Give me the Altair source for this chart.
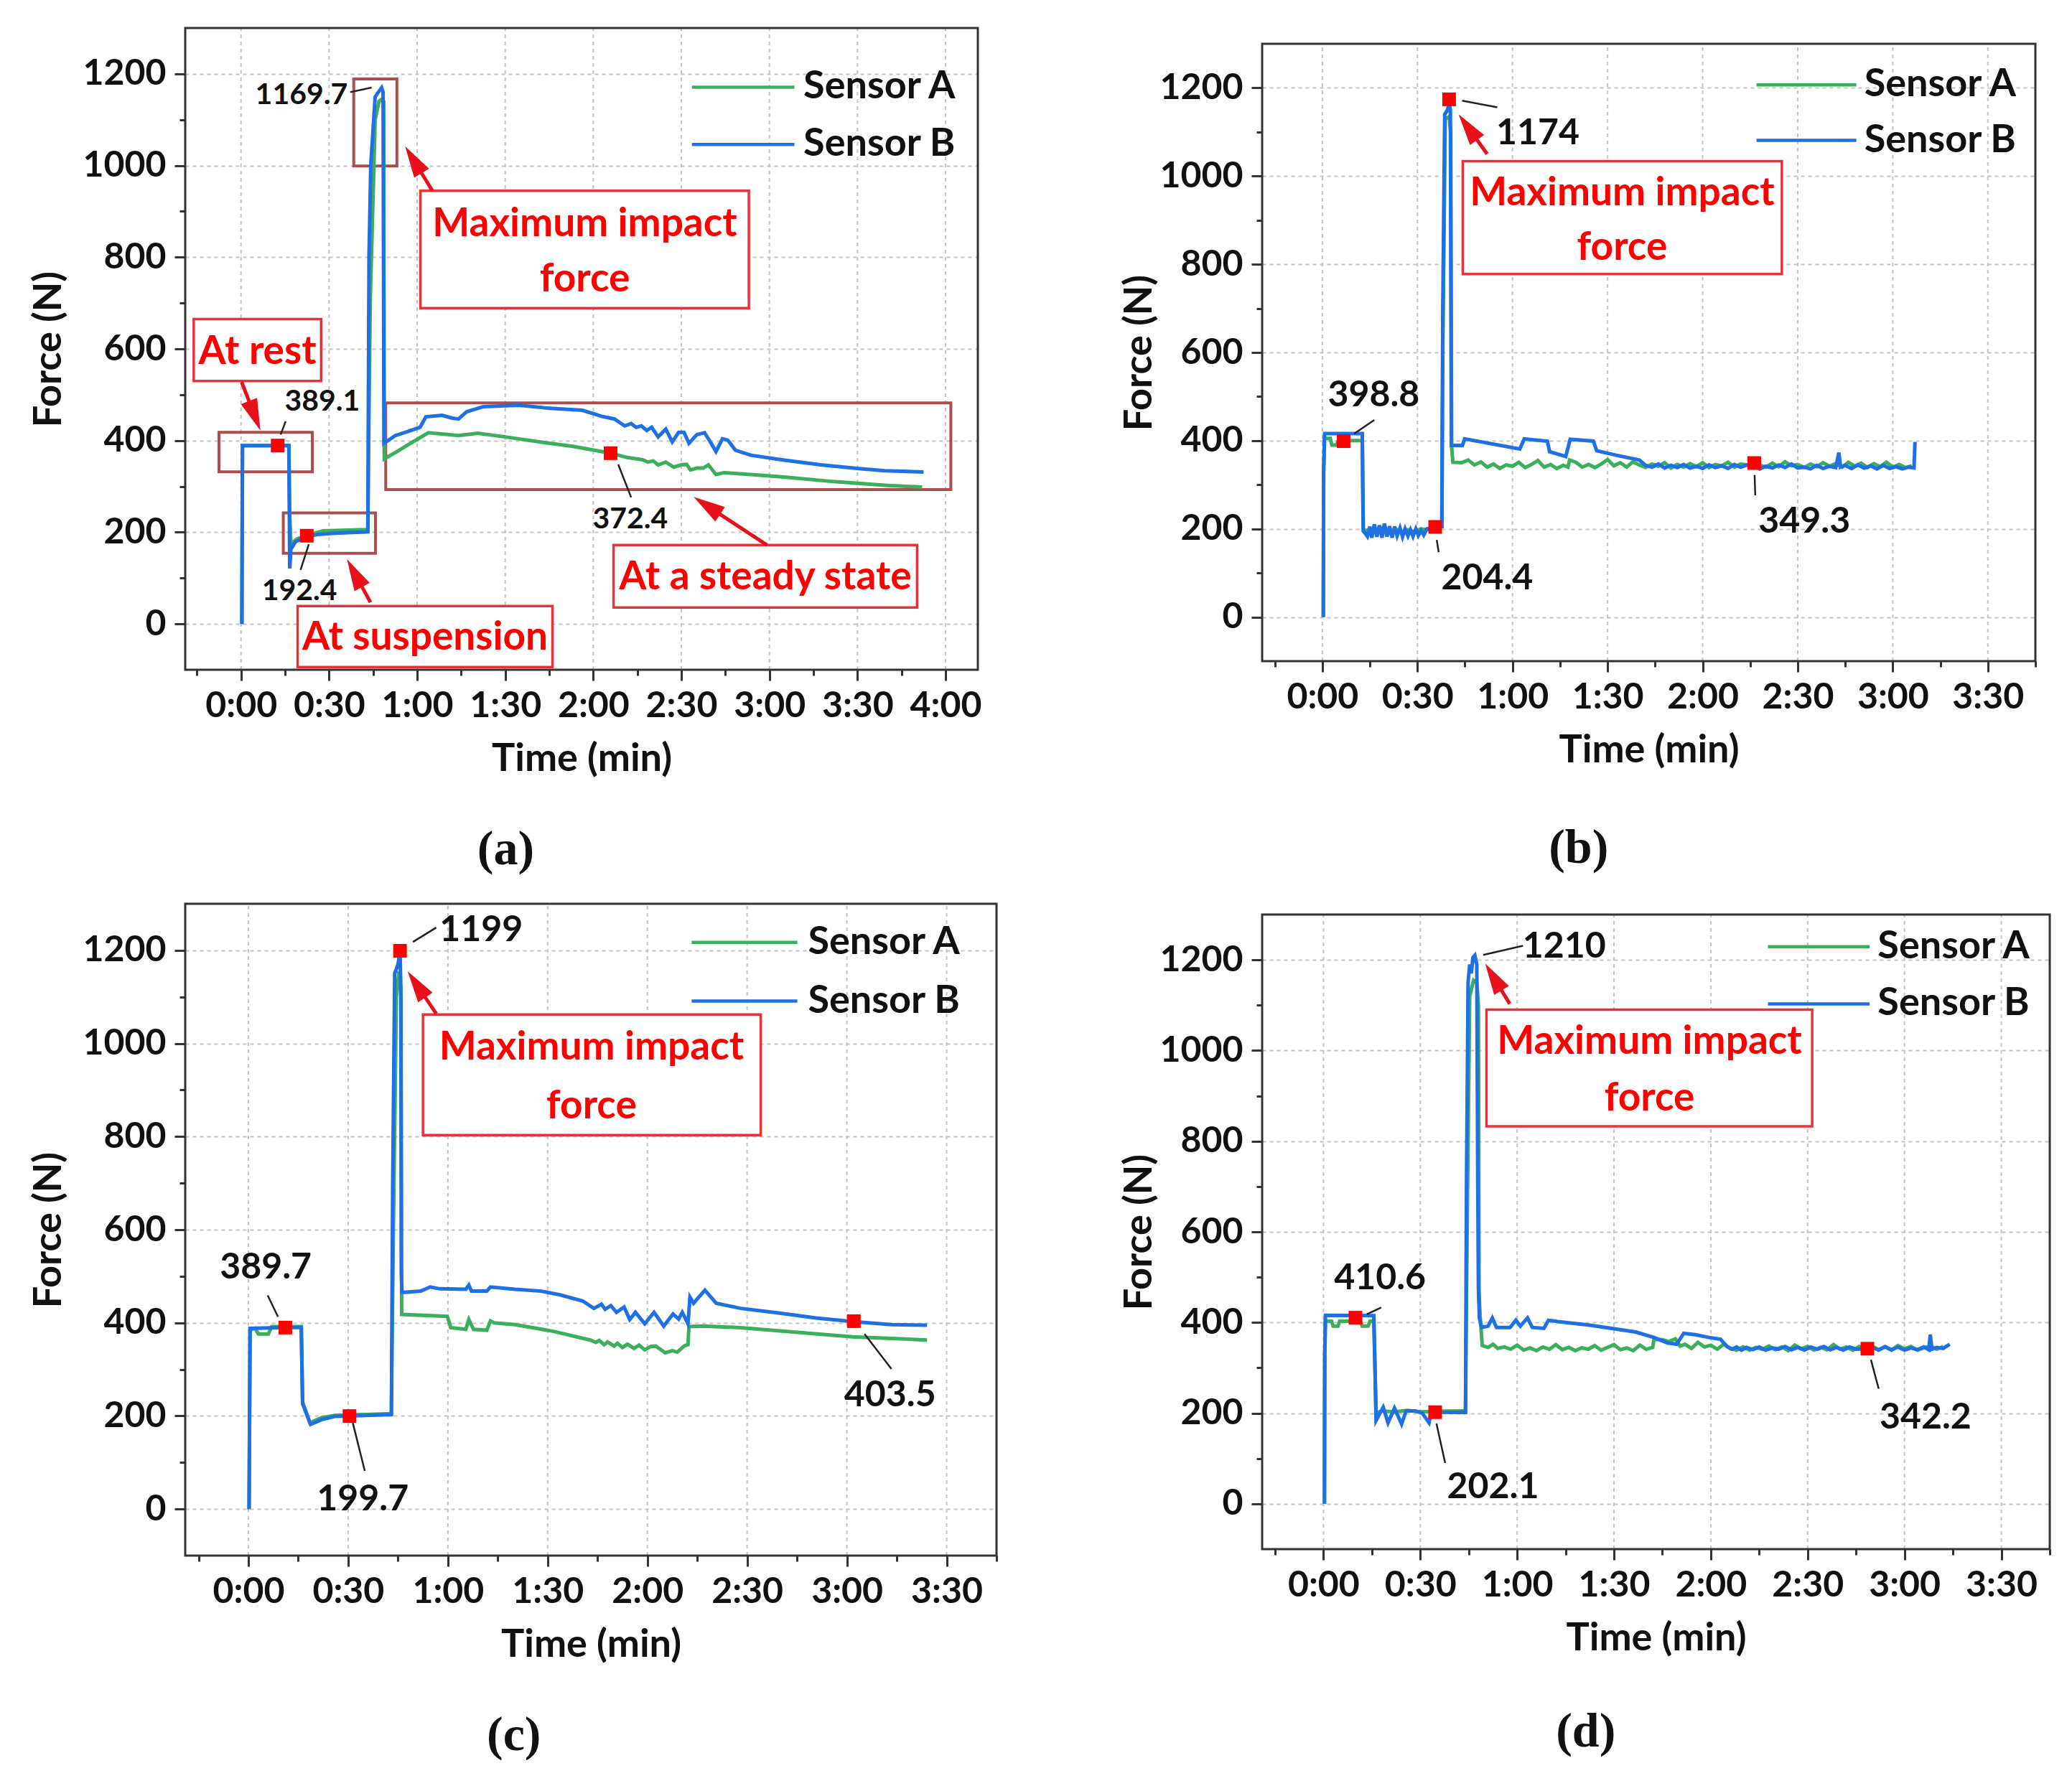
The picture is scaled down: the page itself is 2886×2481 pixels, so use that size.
import math
import altair as alt
import pandas as pd

FONT = "Lato"
GREEN = "#3BAF5B"
BLUE = "#1F6FE5"
RED = "#FF0000"
BOXRED = "#E8323A"
ARROWRED = "#E8101A"
DARKRED = "#A03C3C"
INK = "#111111"
FRAME = "#333333"
GRID = "#c4c4c4"
ARROW_PATH = "M0,-1L0.55,1L-0.55,1Z"

# ---------------- data: (time in s, force in N) ----------------
A_SENSOR_A = [(0.3, 0), (0.5, 389), (16.3, 389), (16.6, 240), (17.0, 174), (19.0, 185), (22.4, 193), (28, 203),
              (43.2, 206), (44.0, 700), (45.7, 1100), (47.0, 1140), (48.0, 1145), (48.6, 1140), (48.8, 360),
              (52.6, 374), (57.2, 392), (63.8, 417), (74.1, 411), (80.7, 416), (90.0, 408), (104.1, 395),
              (113.4, 387), (122.8, 376), (125.9, 372.4), (131.6, 363), (136.8, 358), (138.6, 353), (140.4, 355.5),
              (142.1, 347), (144.7, 353), (147.4, 342), (150.0, 347), (151.8, 348), (153.1, 336), (155.3, 340),
              (157.5, 340), (159.2, 347), (161.8, 326), (164.5, 330), (171.1, 327), (184.2, 321), (201.8, 310.5),
              (219.3, 302.6), (232.0, 298.4)]
A_SENSOR_B = [(0.3, 0), (0.5, 389), (16.3, 389), (16.6, 121), (17.0, 163), (18.5, 179), (20.5, 185), (22.4, 190),
              (26, 195), (32, 198), (43.2, 201), (43.6, 800), (44.2, 1000), (45.7, 1150), (47.0, 1162),
              (47.9, 1169.7), (48.4, 1160), (48.7, 394), (52.6, 411), (57.0, 420), (61.0, 429), (63.0, 452),
              (68.5, 455), (72.0, 449), (74.1, 447), (76.9, 463), (82.6, 474), (94.7, 477), (104.1, 471),
              (116.3, 466), (122.8, 453), (127.2, 447), (130.7, 432), (132.9, 437), (134.6, 429), (136.4, 432),
              (138.2, 422), (139.9, 429), (142.1, 408), (144.7, 425), (146.9, 397), (149.1, 418), (150.9, 418),
              (152.6, 394), (155.3, 413), (157.9, 417), (159.6, 400), (161.8, 376), (164.0, 404), (165.8, 401),
              (168.4, 379), (173.7, 368), (184.2, 358), (197.4, 347), (210.5, 339), (219.3, 334), (232.5, 331.6)]

B_SENSOR_A = [(0.3, 0), (0.4, 330), (0.7, 405), (2.5, 405), (3.0, 390), (4.5, 390), (5.0, 400), (12.6, 400),
              (12.9, 200), (13.5, 195), (15, 200), (17, 192), (19, 202), (21, 190), (23, 200), (25, 192), (27, 198),
              (29, 193), (31, 200), (33, 198), (35.5, 204), (37.7, 205), (38.0, 600), (38.8, 1130), (40.0, 1135),
              (40.5, 1100), (40.8, 385), (41.2, 351), (44, 350), (46, 356), (48, 345), (50, 352), (52, 340),
              (54, 347), (56, 337), (58, 345), (60, 342), (62, 351), (64, 339), (66, 346), (68, 355), (70, 340),
              (72, 346), (74, 337), (76, 344), (77.5, 340), (78, 356), (80, 351), (82, 340), (84, 346), (86, 339),
              (88, 347), (90, 357), (92, 343), (94, 350), (96, 340), (98, 352), (100, 345), (102, 339), (104, 347),
              (106, 342), (108, 350), (110, 338), (112, 346), (114, 340), (116, 348), (118, 341), (120, 350),
              (122, 339), (124, 346), (126, 343), (128, 351), (130, 340), (132, 347), (134, 345), (136, 338),
              (138, 344), (140, 340), (142, 349), (144, 341), (146, 352), (148, 343), (150, 346), (152, 339),
              (154, 347), (156, 341), (158, 350), (160, 342), (162, 348), (164, 340), (166, 351), (168, 342),
              (170, 349), (172, 339), (174, 348), (176, 341), (178, 351), (180, 340), (182, 346), (184, 339),
              (186, 343)]
B_SENSOR_B = [(0.3, 0), (0.4, 330), (0.7, 416), (12.6, 416), (12.9, 195), (13.5, 190), (14.2, 183), (15.0, 205),
              (15.6, 180), (16.4, 210), (17.2, 182), (18.0, 208), (18.8, 180), (19.6, 212), (20.4, 182),
              (21.2, 206), (22.0, 180), (22.8, 205), (23.6, 184), (24.5, 202), (25.3, 182), (26.1, 200),
              (27.0, 184), (27.8, 198), (28.6, 183), (29.5, 200), (30.3, 185), (31.2, 196), (32.0, 186),
              (33.0, 200), (35.5, 204.4), (37.7, 205), (38.0, 700), (38.6, 1140), (39.5, 1150), (40.0, 1165),
              (40.4, 1150), (40.7, 389), (44.2, 389), (44.9, 404), (62.3, 381), (63.7, 404), (71.0, 399),
              (71.7, 375), (76.8, 364), (78.2, 403), (85.5, 399), (86.6, 377), (92.7, 367), (100.0, 356),
              (102, 344), (104, 340), (106, 347), (108, 338), (110, 344), (112, 339), (114, 346), (116, 338),
              (118, 342), (120, 337), (122, 345), (124, 339), (126, 343), (128, 337), (130, 346), (132, 340),
              (134, 345), (136.3, 349.3), (138, 336), (140, 342), (142, 338), (144, 345), (146, 339), (148, 347),
              (150, 338), (152, 340), (154, 336), (156, 344), (158, 337), (160, 342), (162, 339), (163, 373),
              (163.5, 340), (165, 344), (167, 337), (169, 345), (171, 338), (173, 343), (175, 336), (177, 344),
              (179, 337), (181, 341), (183, 336), (185, 340), (186.7, 338), (187, 397)]

C_SENSOR_A = [(0.2, 0), (0.5, 385), (2.0, 388), (3.0, 376), (6.0, 376), (7.0, 392), (15.9, 392), (16.3, 230),
              (18.5, 185), (22.0, 196), (26.0, 201), (43.0, 205), (43.6, 600), (44.5, 1100), (45.3, 1155),
              (45.8, 1120), (46.1, 418), (59.8, 414), (60.9, 389.5), (65.4, 386), (66.3, 407), (67.7, 386),
              (71.7, 384), (72.8, 404), (73.9, 400), (80.2, 396), (91.5, 382), (102.8, 363), (104.5, 358),
              (105.5, 362), (107.0, 353), (108.0, 359), (110.0, 350), (111.0, 356), (112.5, 347), (114.0, 354),
              (116.0, 345), (117.5, 352), (119.2, 342), (121.0, 349), (122.5, 350), (125.4, 335.6), (127.5, 340),
              (129.0, 337), (131.0, 350), (132.2, 353), (132.5, 392), (137.0, 393), (148.0, 389.5), (181.7, 370),
              (204.1, 363)]
C_SENSOR_B = [(0.2, 0), (0.5, 388), (11.1, 390), (15.9, 390), (16.3, 226), (18.7, 182), (22.0, 192), (26.0, 199),
              (30.4, 199.7), (43.0, 203), (43.4, 700), (44.0, 1150), (45.0, 1170), (45.6, 1199), (45.9, 1100),
              (46.0, 507), (46.2, 465), (51.8, 468), (54.7, 477), (57.5, 473), (65.4, 472), (66.3, 481),
              (67.1, 468), (71.7, 468), (72.8, 477), (80.2, 472), (88.1, 468), (93.7, 460), (100.5, 447),
              (103.9, 431), (106.2, 440), (107.3, 429), (109.0, 437), (110.7, 422.5), (113.0, 434), (114.7, 407),
              (116.4, 422.5), (119.2, 398), (122.0, 422.5), (124.9, 393), (127.7, 419), (129.4, 408),
              (130.5, 422.5), (132.2, 398), (132.8, 455), (133.9, 442), (135.1, 452), (137.3, 470), (140.7, 442),
              (148.1, 431), (159.4, 421), (170.7, 410.5), (181.7, 402.6), (193.4, 396), (204.1, 395)]

D_SENSOR_A = [(0.3, 0), (0.4, 330), (0.6, 403), (2.5, 403), (3.0, 392), (4.5, 392), (5.0, 403), (11.5, 403),
              (12.0, 392), (13.8, 392), (14.4, 403), (15.6, 403), (16.3, 200), (18, 205), (22, 203), (26, 206),
              (30, 203), (35, 204), (44.0, 205), (44.5, 600), (45.3, 1120), (46.5, 1155), (47.5, 1150), (48.0, 1100),
              (48.2, 469), (48.5, 416), (49.2, 349), (51, 345), (52.5, 352), (54, 343), (56, 346), (58, 341),
              (60, 350), (62, 339), (64, 344), (66, 338), (68, 346), (70, 341), (72, 351), (74, 340), (76, 345),
              (78, 338), (80, 344), (82, 341), (84, 349), (86, 339), (88, 345), (90, 351), (92, 340), (94, 344),
              (96, 338), (98, 350), (100, 341), (102, 345), (102.4, 363), (105, 362), (107, 358), (109, 364),
              (110.5, 348), (112, 352), (114, 343), (116, 356), (118, 346), (120, 350), (122, 341), (124, 352),
              (126, 343), (128, 339), (130, 346), (132, 339), (134, 345), (136, 341), (138, 348), (140, 340),
              (142, 346), (144, 338), (146, 350), (148, 342), (150, 347), (152, 339), (154, 345), (156, 340),
              (158, 351), (160, 341), (162, 346), (164, 339), (166, 347), (168, 342), (170, 348), (172, 340),
              (174, 346), (176, 339), (178, 349), (180, 342), (182, 347), (184, 339), (186, 344), (188, 348),
              (190, 341), (192, 347)]
D_SENSOR_B = [(0.3, 0), (0.4, 330), (0.6, 416), (15.6, 415), (16.3, 184), (18.5, 213), (20.0, 179), (22.0, 211),
              (24.2, 176), (25.6, 205), (28.4, 205), (30.6, 200), (32.7, 179), (33.4, 203), (35.0, 202.1),
              (44.0, 201.6), (44.3, 700), (44.8, 1150), (45.3, 1190), (45.8, 1170), (46.3, 1205), (46.9, 1210),
              (47.5, 1190), (47.8, 700), (48.0, 475), (48.3, 410), (49.0, 389), (51.0, 392), (52.3, 410),
              (53.6, 389), (57.8, 389), (59.6, 405), (61.0, 392), (63.2, 410), (64.7, 389), (68.3, 387),
              (69.7, 405), (72.5, 402), (82.5, 394), (96.7, 379), (102.4, 367), (106.6, 355), (109.4, 352),
              (111.6, 376), (115.2, 373), (119.4, 367), (123.0, 363), (125.0, 347), (126.5, 341), (128, 346),
              (129.5, 339), (131, 345), (133, 340), (135, 346), (137, 339), (139, 344), (141, 341), (143, 347),
              (145, 340), (147, 345), (149, 339), (151, 346), (153, 341), (155, 347), (157, 340), (159, 345),
              (161, 339), (163, 346), (165, 341), (168.5, 342.2), (170, 345), (172, 339), (174, 347), (176, 340),
              (178, 346), (180, 339), (182, 344), (184, 340), (186, 346), (187.5, 340), (188, 373), (188.5, 341),
              (190, 345), (192, 343), (194, 352)]

# highlighted points (t, force) and their labels (text, t, force)
A_MARKERS = [(12.5, 389.1), (22.4, 192.4), (125.9, 372.4)]
B_MARKERS = [(6.7, 398.8), (35.6, 204.4), (40.0, 1174), (136.3, 349.3)]
C_MARKERS = [(11.1, 389.7), (30.4, 199.7), (45.6, 1199), (182.1, 403.5)]
D_MARKERS = [(9.9, 410.6), (34.6, 202.1), (168.5, 342.2)]

A_LABELS = [("1169.7", 20.6, 1153), ("389.1", 27.7, 484), ("192.4", 19.9, 71), ("372.4", 132.6, 228)]
B_LABELS = [("1174", 68.0, 1096), ("398.8", 16.2, 503), ("204.4", 52.0, 87), ("349.3", 152.1, 216)]
C_LABELS = [("1199", 70.0, 1243), ("389.7", 5.2, 519), ("199.7", 34.4, 20), ("403.5", 193.0, 244)]
D_LABELS = [("1210", 74.6, 1228), ("410.6", 17.5, 497), ("202.1", 52.5, 36), ("342.2", 186.5, 190)]

# leader lines (t1, f1, t2, f2)
A_LEADERS = [(37.2, 1160, 44.5, 1170), (15.2, 442, 13.5, 413), (23.1, 174, 20.3, 118), (128.5, 348, 132.9, 276)]
B_LEADERS = [(44.1, 1171, 55.2, 1156), (16.4, 447, 10.1, 416), (36.7, 147, 36.1, 175), (136.4, 322, 136.6, 276)]
C_LEADERS = [(49.5, 1218, 56.5, 1249), (5.8, 459, 8.9, 413), (35.0, 82, 31.4, 185), (193.4, 301, 185.3, 376)]
D_LEADERS = [(49.5, 1211, 61.8, 1231), (17.9, 433, 13.4, 418), (37.7, 90, 35.0, 177), (172.0, 254, 169.6, 318)]

# red arrows (tail t, tail f, head t, head f)
A_ARROWS = [(65.2, 945, 55.9, 1042), (0.2, 528, 6.6, 422), (44.1, 47, 36.1, 141), (179.2, 172, 154.2, 277)]
B_ARROWS = [(52.0, 1050, 43.0, 1140)]
C_ARROWS = [(56.5, 1064, 47.9, 1155)]
D_ARROWS = [(57.7, 1103, 50.1, 1192)]

# red text boxes (t1, t2, f1, f2) and their texts (text, t, f)
A_BOXES = [(61.1, 173.0, 689, 945), (-16.1, 27.3, 530, 665), (19.3, 106.1, -94, 39), (126.9, 230.3, 36, 172)]
B_BOXES = [(44.3, 145.0, 778, 1034)]
C_BOXES = [(52.5, 154.1, 803, 1062)]
D_BOXES = [(50.5, 151.4, 833, 1090)]
A_BOX_TEXT = [("Maximum impact", 117.1, 872), ("force", 117.1, 752), ("At rest", 5.6, 593),
              ("At suspension", 62.7, -30), ("At a steady state", 178.6, 102)]
B_BOX_TEXT = [("Maximum impact", 94.6, 962), ("force", 94.6, 838)]
C_BOX_TEXT = [("Maximum impact", 103.2, 991), ("force", 103.2, 865)]
D_BOX_TEXT = [("Maximum impact", 101.0, 1019), ("force", 101.0, 895)]

# dark-red region frames in panel (a)
A_REGIONS = [(-7.5, 24.3, 332, 418), (14.4, 45.8, 154, 242), (38.4, 53.1, 999, 1189), (49.3, 241.8, 293, 482)]

SERIES = ["Sensor A", "Sensor B"]
# legend placement in data units: line start, line end, text start, row forces
A_LEGEND = (153.6, 188.5, 191.6, [1171, 1046])
B_LEGEND = (137.0, 168.5, 171.0, [1207, 1081])
C_LEGEND = (133.3, 165.1, 168.3, [1217, 1091])
D_LEGEND = (137.7, 169.2, 171.7, [1229, 1103])

X_MIN, Y_MIN, Y_MAX = -19, -100, 1300
X_TICKS_STEP = 15
Y_TICKS = list(range(0, 1201, 100))


def build(caption, A, B, markers, labels, label_size, leaders, arrows, boxes, box_text, regions, legend,
          xmax, width, height, ytitle_pad, cap_offset, gap):
    xmin, ymin, ymax = X_MIN, Y_MIN, Y_MAX
    tpp = (xmax - xmin) / width
    vpp = (ymax - ymin) / height
    ytop = ymax + gap * vpp          # empty band above the frame (keeps rows aligned)
    xscale = alt.Scale(domain=[xmin, xmax], nice=False, zero=False)
    yscale = alt.Scale(domain=[ymin, ytop], nice=False, zero=False)
    common = dict(
        domain=False, tickWidth=3, tickColor=FRAME,
        labelFont=FONT, labelFontSize=50, labelFontWeight="bold", labelColor=INK,
        titleFont=FONT, titleFontSize=54, titleFontWeight="bold", titleColor=INK,
        labelOverlap=False, labelFlush=False,
    )
    xaxis = alt.Axis(
        values=list(range(-15, int(xmax) + 1, X_TICKS_STEP)),
        labelExpr="datum.value % 30 == 0 && datum.value >= 0 ? floor(datum.value / 60) + ':' + (datum.value % 60 == 0 ? '00' : '30') : ''",
        tickSize={"condition": {"test": "datum.value % 30 != 0", "value": 8}, "value": 15},
        grid=False, labelPadding=10, titlePadding=22, **common)
    yextra = {"titleY": gap + height / 2} if gap else {}
    yaxis = alt.Axis(
        values=Y_TICKS,
        labelExpr="datum.value % 200 == 0 ? datum.value : ''",
        tickSize={"condition": {"test": "datum.value % 200 != 0", "value": 8}, "value": 15},
        grid=True, gridColor=GRID, gridDash=[5, 5], gridWidth=2,
        gridOpacity={"condition": {"test": "datum.value % 200 != 0", "value": 0}, "value": 1},
        labelPadding=12, titlePadding=ytitle_pad, **yextra, **common)

    def X(f):
        return alt.X(f"{f}:Q", scale=xscale, axis=xaxis, title="Time (min)")

    def Y(f):
        return alt.Y(f"{f}:Q", scale=yscale, axis=yaxis, title="Force (N)")

    layers = []
    # vertical grid lines at the major time ticks, limited to the frame
    gt = list(range(0, int(xmax) + 1, 30))
    df = pd.DataFrame({"t": gt, "v": [ymin] * len(gt), "v2": [ymax] * len(gt)})
    layers.append(alt.Chart(df).mark_rule(color=GRID, strokeWidth=2, strokeDash=[5, 5])
                  .encode(x=X("t"), y=Y("v"), y2="v2"))

    if regions:
        df = pd.DataFrame(regions, columns=["t", "t2", "v", "v2"])
        layers.append(alt.Chart(df).mark_rect(fillOpacity=0, stroke=DARKRED, strokeWidth=4, strokeOpacity=0.9)
                      .encode(x=X("t"), x2="t2", y=Y("v"), y2="v2"))

    rows = []
    for name, pts in zip(SERIES, (A, B)):
        for i, (t, v) in enumerate(pts):
            rows.append({"series": name, "t": t, "v": v, "i": i})
    color = alt.Color("series:N", scale=alt.Scale(domain=SERIES, range=[GREEN, BLUE]), legend=None)
    layers.append(alt.Chart(pd.DataFrame(rows)).mark_line(strokeWidth=5)
                  .encode(x=X("t"), y=Y("v"), color=color, order=alt.Order("i:Q")))

    # red text boxes
    df = pd.DataFrame(boxes, columns=["t", "t2", "v", "v2"])
    layers.append(alt.Chart(df).mark_rect(fill="white", stroke=BOXRED, strokeWidth=3.5)
                  .encode(x=X("t"), x2="t2", y=Y("v"), y2="v2"))
    df = pd.DataFrame(box_text, columns=["text", "t", "v"])
    layers.append(alt.Chart(df).mark_text(font=FONT, fontSize=55, fontWeight="bold", color=RED,
                                          align="center", baseline="middle")
                  .encode(x=X("t"), y=Y("v"), text="text:N"))

    # arrows
    arows = []
    hl = 44.0
    for (tt, vt, th, vh) in arrows:
        dx = (th - tt) / tpp
        dy = -(vh - vt) / vpp
        L = math.hypot(dx, dy)
        ux, uy = dx / L, dy / L
        tc = th - (hl / 2) * ux * tpp
        vc = vh + (hl / 2) * uy * vpp
        ang = math.degrees(math.atan2(ux, -uy)) % 360
        arows.append({"t": tt, "v": vt, "tc": tc, "vc": vc, "ang": ang})
    df = pd.DataFrame(arows)
    layers.append(alt.Chart(df).mark_rule(color=ARROWRED, strokeWidth=5)
                  .encode(x=X("t"), y=Y("v"), x2="tc", y2="vc"))
    layers.append(alt.Chart(df).mark_point(shape=ARROW_PATH, filled=True, size=hl * hl, color=ARROWRED,
                                           opacity=1, strokeWidth=0)
                  .encode(x=X("tc"), y=Y("vc"), angle=alt.Angle("ang:Q", scale=None)))

    # leaders
    df = pd.DataFrame(leaders, columns=["t", "v", "t2", "v2"])
    layers.append(alt.Chart(df).mark_rule(color="#222222", strokeWidth=2.5)
                  .encode(x=X("t"), y=Y("v"), x2="t2", y2="v2"))

    # markers
    df = pd.DataFrame(markers, columns=["t", "v"])
    layers.append(alt.Chart(df).mark_square(size=360, color=RED, opacity=1)
                  .encode(x=X("t"), y=Y("v")))

    # value labels
    df = pd.DataFrame(labels, columns=["text", "t", "v"])
    layers.append(alt.Chart(df).mark_text(font=FONT, fontSize=label_size, fontWeight="bold", color=INK,
                                          align="center", baseline="middle")
                  .encode(x=X("t"), y=Y("v"), text="text:N"))

    # legend
    l1, l2, lt, lv = legend
    df = pd.DataFrame({"series": SERIES, "t": [l1, l1], "t2": [l2, l2], "tt": [lt, lt], "v": lv})
    layers.append(alt.Chart(df).mark_rule(strokeWidth=4.5)
                  .encode(x=X("t"), x2="t2", y=Y("v"), color=color))
    layers.append(alt.Chart(df).mark_text(font=FONT, fontSize=54, fontWeight="bold", color=INK,
                                          align="left", baseline="middle")
                  .encode(x=X("tt"), y=Y("v"), text="series:N"))

    # plot frame
    df = pd.DataFrame({"t": [xmin], "t2": [xmax], "v": [ymin], "v2": [ymax]})
    layers.append(alt.Chart(df).mark_rect(fillOpacity=0, stroke=FRAME, strokeWidth=3)
                  .encode(x=X("t"), x2="t2", y=Y("v"), y2="v2"))

    return alt.layer(*layers).properties(
        width=width, height=height + gap,
        title=alt.TitleParams(caption, orient="bottom", anchor="middle", frame="bounds",
                              font="Liberation Serif", fontSize=68, fontWeight="bold", color=INK,
                              offset=cap_offset),
    )


pa = build("(a)", A_SENSOR_A, A_SENSOR_B, A_MARKERS, A_LABELS, 41, A_LEADERS, A_ARROWS, A_BOXES, A_BOX_TEXT,
           A_REGIONS, A_LEGEND, 251, 1104, 894, 19, 66, 0)
pb = build("(b)", B_SENSOR_A, B_SENSOR_B, B_MARKERS, B_LABELS, 50, B_LEADERS, B_ARROWS, B_BOXES, B_BOX_TEXT,
           [], B_LEGEND, 225, 1077, 860, 0, 76, 22)
pc = build("(c)", C_SENSOR_A, C_SENSOR_B, C_MARKERS, C_LABELS, 50, C_LEADERS, C_ARROWS, C_BOXES, C_BOX_TEXT,
           [], C_LEGEND, 225, 1130, 908, 19, 66, 0)
pd_ = build("(d)", D_SENSOR_A, D_SENSOR_B, D_MARKERS, D_LABELS, 50, D_LEADERS, D_ARROWS, D_BOXES, D_BOX_TEXT,
            [], D_LEGEND, 225, 1097, 884, 0, 70, 0)

chart = alt.hconcat(
    alt.vconcat(pa, pc, spacing=39),
    alt.vconcat(pb, pd_, spacing=56),
    spacing=170,
).properties(
    padding={"left": 33, "top": 29, "right": 2, "bottom": 0}
).configure_view(strokeWidth=0)

chart.save("out.html", embed_options={"renderer": "svg", "actions": False})
